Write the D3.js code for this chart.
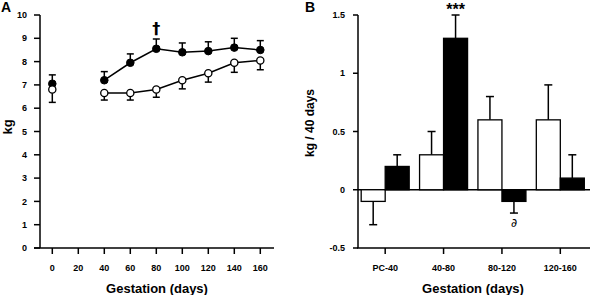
<!DOCTYPE html>
<html>
<head>
<meta charset="utf-8">
<script src="https://cdn.jsdelivr.net/npm/d3@7"></script>
<style>
  body { margin: 0; background: #fff; }
  text { font-family: "Liberation Sans", Arial, sans-serif; font-weight: bold; }
</style>
</head>
<body>
<script>
(function (d3) {
  'use strict';

  // ---- panel A data: body weight (kg) by gestation day
  const days = [0, 40, 60, 80, 100, 120, 140, 160];
  const filledMean = [7.05, 7.2, 7.95, 8.55, 8.4, 8.45, 8.6, 8.5];
  const filledErr  = [0.38, 0.37, 0.38, 0.42, 0.4, 0.4, 0.4, 0.4];
  const openMean   = [6.8, 6.65, 6.65, 6.8, 7.2, 7.5, 7.95, 8.05];
  const openErr    = [0.55, 0.3, 0.3, 0.33, 0.37, 0.38, 0.41, 0.4];
  const xTicksA = [0, 20, 40, 60, 80, 100, 120, 140, 160];
  const yTicksA = [0, 1, 2, 3, 4, 5, 6, 7, 8, 9, 10];

  // ---- panel B data: gain (kg / 40 days) by period
  const periods = ["PC-40", "40-80", "80-120", "120-160"];
  const openGain = [-0.1, 0.3, 0.6, 0.6];
  const openGainErr = [0.2, 0.2, 0.2, 0.3];
  const filledGain = [0.2, 1.3, -0.1, 0.1];
  const filledGainErr = [0.1, 0.2, 0.1, 0.2];
  const yTicksB = [-0.5, 0, 0.5, 1, 1.5];

  const svg = d3.select("body").append("svg")
    .attr("width", 592).attr("height", 295);

  // ================= Panel A =================
  const xA = d3.scaleLinear().domain([0, 160]).range([52.3, 260.3]);
  const yA = d3.scaleLinear().domain([0, 10]).range([248, 15]);
  const gA = svg.append("g");

  // y axis
  gA.append("line").attr("x1", 40).attr("x2", 40).attr("y1", yA(10)).attr("y2", yA(0))
    .attr("stroke", "#000").attr("stroke-width", 1.5);
  gA.selectAll(".ytA").data(yTicksA).join("line")
    .attr("x1", 34).attr("x2", 40).attr("y1", d => yA(d)).attr("y2", d => yA(d))
    .attr("stroke", "#000").attr("stroke-width", 1.5);
  gA.selectAll(".ylA").data(yTicksA).join("text")
    .attr("x", 27).attr("y", d => yA(d)).attr("dy", "0.35em")
    .attr("text-anchor", "end").attr("font-size", 9).text(d => d);

  // x axis
  gA.append("line").attr("x1", 34).attr("x2", 274).attr("y1", yA(0)).attr("y2", yA(0))
    .attr("stroke", "#000").attr("stroke-width", 1.5);
  gA.selectAll(".xtA").data(xTicksA).join("line")
    .attr("x1", d => xA(d)).attr("x2", d => xA(d)).attr("y1", yA(0)).attr("y2", yA(0) + 6)
    .attr("stroke", "#000").attr("stroke-width", 1.5);
  gA.selectAll(".xlA").data(xTicksA).join("text")
    .attr("x", d => xA(d)).attr("y", 268).attr("dy", "0.35em")
    .attr("text-anchor", "middle").attr("font-size", 9).text(d => d);

  gA.append("text").attr("x", 157).attr("y", 288).attr("dy", "0.35em")
    .attr("text-anchor", "middle").attr("font-size", 13).text("Gestation (days)");
  gA.append("text").attr("transform", "translate(7,127) rotate(-90)").attr("dy", "0.35em")
    .attr("text-anchor", "middle").attr("font-size", 13).text("kg");
  gA.append("text").attr("x", 1).attr("y", 12).attr("font-size", 14).text("A");

  const ptsF = days.map((d, i) => ({ d: d, m: filledMean[i], e: filledErr[i] }));
  const ptsO = days.map((d, i) => ({ d: d, m: openMean[i], e: openErr[i] }));
  const line = d3.line().x(p => xA(p.d)).y(p => yA(p.m));

  gA.append("path").datum(ptsF.slice(1)).attr("d", line)
    .attr("fill", "none").attr("stroke", "#000").attr("stroke-width", 1.5);
  gA.append("path").datum(ptsO.slice(1)).attr("d", line)
    .attr("fill", "none").attr("stroke", "#000").attr("stroke-width", 1.5);

  function errA(pts, dir) {
    const g = gA.append("g").attr("stroke", "#000").attr("stroke-width", 1.5);
    g.selectAll(".v").data(pts).join("line")
      .attr("x1", p => xA(p.d)).attr("x2", p => xA(p.d))
      .attr("y1", p => yA(p.m)).attr("y2", p => yA(p.m + dir * p.e));
    g.selectAll(".c").data(pts).join("line")
      .attr("x1", p => xA(p.d) - 3.5).attr("x2", p => xA(p.d) + 3.5)
      .attr("y1", p => yA(p.m + dir * p.e)).attr("y2", p => yA(p.m + dir * p.e));
  }
  errA(ptsF, 1);
  errA(ptsO, -1);

  gA.selectAll(".cf").data(ptsF).join("circle")
    .attr("cx", p => xA(p.d)).attr("cy", p => yA(p.m)).attr("r", 3.8)
    .attr("fill", "#000").attr("stroke", "#000");
  gA.selectAll(".co").data(ptsO).join("circle")
    .attr("cx", p => xA(p.d)).attr("cy", p => yA(p.m)).attr("r", 3.6)
    .attr("fill", "#fff").attr("stroke", "#000").attr("stroke-width", 1.3);

  gA.append("text").attr("x", xA(80)).attr("y", 28).attr("dy", "0.35em")
    .attr("text-anchor", "middle").attr("font-size", 16)
    .style("font-family", "'DejaVu Sans', sans-serif").text("\u2020");

  // ================= Panel B =================
  const yB = d3.scaleLinear().domain([-0.5, 1.5]).range([248, 15]);
  const xB = d3.scaleBand().domain(periods).range([356, 589.5]).paddingInner(0).paddingOuter(0);
  const barW = 24;
  const gB = svg.append("g");

  const cx = p => xB(p) + xB.bandwidth() / 2;

  // zero line
  gB.append("line").attr("x1", 358).attr("x2", 590).attr("y1", yB(0)).attr("y2", yB(0))
    .attr("stroke", "#000").attr("stroke-width", 1.5);

  const bars = [];
  periods.forEach((p, i) => {
    bars.push({ x: cx(p) - barW, v: openGain[i], e: openGainErr[i], fill: "#fff" });
    bars.push({ x: cx(p), v: filledGain[i], e: filledGainErr[i], fill: "#000" });
  });

  const gErr = gB.append("g").attr("stroke", "#000").attr("stroke-width", 1.5);
  const errEnd = b => b.v + (b.v >= 0 ? b.e : -b.e);
  gErr.selectAll(".v").data(bars).join("line")
    .attr("x1", b => b.x + barW / 2).attr("x2", b => b.x + barW / 2)
    .attr("y1", b => yB(b.v)).attr("y2", b => yB(errEnd(b)));
  gErr.selectAll(".c").data(bars).join("line")
    .attr("x1", b => b.x + barW / 2 - 4).attr("x2", b => b.x + barW / 2 + 4)
    .attr("y1", b => yB(errEnd(b))).attr("y2", b => yB(errEnd(b)));

  gB.selectAll(".bar").data(bars).join("rect")
    .attr("x", b => b.x).attr("width", barW)
    .attr("y", b => yB(Math.max(0, b.v)))
    .attr("height", b => Math.abs(yB(b.v) - yB(0)))
    .attr("fill", b => b.fill).attr("stroke", "#000").attr("stroke-width", 1.3);

  // y axis
  gB.append("line").attr("x1", 358).attr("x2", 358).attr("y1", yB(1.5)).attr("y2", yB(-0.5))
    .attr("stroke", "#000").attr("stroke-width", 1.5);
  gB.selectAll(".ytB").data(yTicksB).join("line")
    .attr("x1", 353).attr("x2", 358).attr("y1", d => yB(d)).attr("y2", d => yB(d))
    .attr("stroke", "#000").attr("stroke-width", 1.5);
  gB.selectAll(".ylB").data(yTicksB).join("text")
    .attr("x", 345).attr("y", d => yB(d)).attr("dy", "0.35em")
    .attr("text-anchor", "end").attr("font-size", 9).text(d => d);

  // x axis
  gB.append("line").attr("x1", 357).attr("x2", 590).attr("y1", yB(-0.5)).attr("y2", yB(-0.5))
    .attr("stroke", "#000").attr("stroke-width", 1.5);
  gB.selectAll(".xtB").data(periods).join("line")
    .attr("x1", d => cx(d)).attr("x2", d => cx(d)).attr("y1", yB(-0.5)).attr("y2", yB(-0.5) + 6)
    .attr("stroke", "#000").attr("stroke-width", 1.5);
  gB.selectAll(".xlB").data(periods).join("text")
    .attr("x", d => cx(d)).attr("y", 268).attr("dy", "0.35em")
    .attr("text-anchor", "middle").attr("font-size", 9).text(d => d);

  gB.append("text").attr("x", 473).attr("y", 288).attr("dy", "0.35em")
    .attr("text-anchor", "middle").attr("font-size", 13).text("Gestation (days)");
  gB.append("text").attr("transform", "translate(310,123) rotate(-90)").attr("dy", "0.35em")
    .attr("text-anchor", "middle").attr("font-size", 12).text("kg / 40 days");
  gB.append("text").attr("x", 305).attr("y", 12).attr("font-size", 14).text("B");

  // significance marks
  gB.append("text").attr("x", cx("40-80") + barW / 2).attr("y", 9).attr("dy", "0.35em")
    .attr("text-anchor", "middle").attr("font-size", 16).text("***");
  gB.append("text").attr("x", cx("80-120") + barW / 2).attr("y", 223).attr("dy", "0.35em")
    .attr("text-anchor", "middle").attr("font-size", 12)
    .style("font-weight", "normal")
    .style("font-family", "'DejaVu Sans', sans-serif").text("\u2202");
})(d3);
</script>
</body>
</html>
